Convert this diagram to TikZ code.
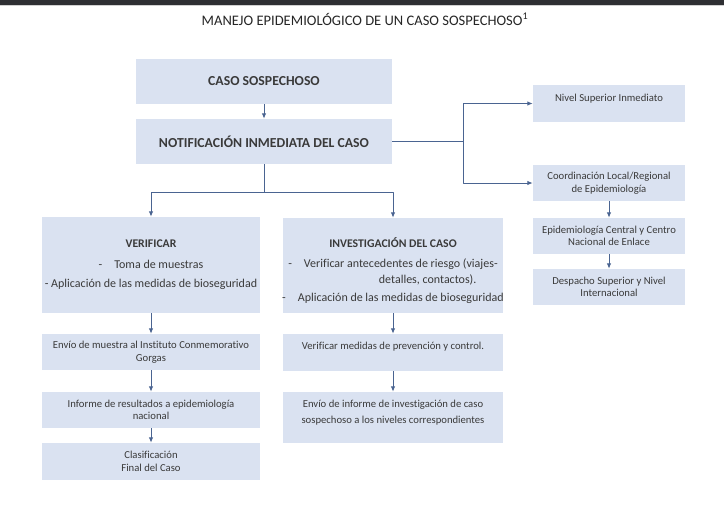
\documentclass[tikz,border=0pt]{standalone}
\usepackage{fontspec}
\setmainfont{Carlito}[Ligatures=NoCommon]
\usetikzlibrary{arrows.meta,positioning}
\definecolor{boxfill}{HTML}{DAE2F1}
\definecolor{linkcol}{HTML}{4A6491}
\definecolor{txtcol}{HTML}{3A3A3A}
\definecolor{barcol}{HTML}{2E2F33}

\begin{document}
\begin{tikzpicture}[x=0.75pt,y=-0.75pt,line join=round,
  box/.style 2 args={fill=boxfill,draw=none,inner sep=0pt,
    minimum width=#1*0.75pt,minimum height=#2*0.75pt},
  head/.style={text=txtcol,font=\fontsize{10.3}{12}\selectfont\bfseries},
  body/.style={text=txtcol,font=\fontsize{8}{9.4}\selectfont,align=center,inner sep=0pt},
  mid/.style={text=txtcol,font=\fontsize{9}{11.6}\selectfont,align=center,inner sep=0pt},
  link/.style={draw=linkcol,line width=0.75pt},
  arr/.style={link,-{Latex[length=4pt,width=3.4pt]}}]
  \useasboundingbox (0,0) rectangle (724,507);
  \fill[white] (0,0) rectangle (724,507);
  \fill[barcol] (0,0) rectangle (724,4.5);
  \fill[black!18] (0,4.5) rectangle (724,6);

  \node[text=black!85,font=\fontsize{10.9}{13}\selectfont] (title) at (365,19)
    {MANEJO EPIDEMIOLÓGICO DE UN CASO SOSPECHOSO\textsuperscript{1}};

  \node[box={256}{45},head] (caso) at (264,81.5) {CASO SOSPECHOSO};
  \node[box={256}{45},head] (notif) at (264,141.5) {NOTIFICACIÓN INMEDIATA DEL CASO};

  \node[box={152}{37}] (nivel) at (609,103.5) {};
  \node[body,below=7pt of nivel.north] (niveltxt) {Nivel Superior Inmediato};
  \node[box={152}{36},body] (coord) at (609,183) {Coordinación Local/Regional\\de Epidemiología};
  \node[box={152}{36},body] (epic) at (609,236) {Epidemiología Central y Centro\\Nacional de Enlace};
  \node[box={152}{36},body] (desp) at (609,287) {Despacho Superior y Nivel\\Internacional};

  \node[box={218}{96},mid] (verif) at (151,265)
    {{\bfseries\fontsize{8.8}{10}\selectfont VERIFICAR}\\[4pt]
     -\quad Toma de muestras\\[3pt]
     - Aplicación de las medidas de bioseguridad};
  \node[box={218}{36},body] (envio) at (151,352) {Envío de muestra al Instituto Conmemorativo\\Gorgas};
  \node[box={218}{36},body] (inf) at (151,410) {Informe de resultados a epidemiología\\nacional};
  \node[box={218}{37},body] (clas) at (151,461.5) {Clasificación\\Final del Caso};

  \node[box={220}{95}] (inv) at (393,265.5) {};
  \node[mid,below=14.5pt of inv.north] (invtxt)
    {{\bfseries\fontsize{8.8}{10}\selectfont INVESTIGACIÓN DEL CASO}\\[4pt]
     -\quad Verificar antecedentes de riesgo (viajes-\\
     \hspace*{52pt}detalles, contactos).\\[2pt]
     -\quad Aplicación de las medidas de bioseguridad};
  \node[box={220}{37}] (vmed) at (393,352.5) {};
  \node[body,below=6pt of vmed.north] (vmedtxt) {Verificar medidas de prevención y control.};
  \node[box={220}{51}] (einf) at (393,417.5) {};
  \node[body,below=6pt of einf.north] (einftxt)
    {Envío de informe de investigación de caso\\[3pt]sospechoso a los niveles correspondientes};

  \coordinate (split) at (264,192);
  \coordinate (rsplit) at (463,141.5);
  \draw[arr] (caso) -- (notif);
  \draw[link] (notif.south) -- (split);
  \draw[arr] (split) -| (verif.north);
  \draw[arr] (split) -| (inv.north);
  \draw[link] (notif.east) -- (rsplit);
  \draw[arr] (rsplit) |- (nivel.west);
  \draw[arr] (rsplit) |- (coord.west);
  \draw[arr] (coord) -- (epic);
  \draw[arr] (epic) -- (desp);
  \draw[arr] (verif) -- (envio);
  \draw[arr] (envio) -- (inf);
  \draw[arr] (inf) -- (clas);
  \draw[arr] (inv) -- (vmed);
  \draw[arr] (vmed) -- (einf);
\end{tikzpicture}
\end{document}
